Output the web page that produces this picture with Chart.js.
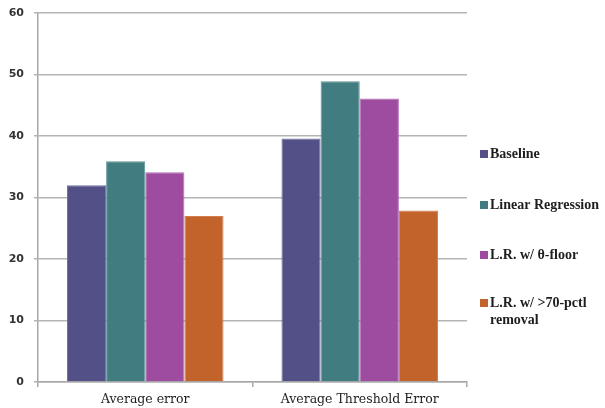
<!DOCTYPE html>
<html>
<head>
<meta charset="utf-8">
<script src="https://cdn.jsdelivr.net/npm/chart.js@4/dist/chart.umd.min.js"></script>
<style>
  html, body { margin: 0; padding: 0; background: #fff; }
  #wrap { width: 605px; height: 408px; position: relative; }
</style>
</head>
<body>
<div id="wrap"><canvas id="c" width="605" height="408"></canvas></div>
<script>
// Categories and series values
const categories = ['Average error', 'Average Threshold Error'];
const seriesNames = ['Baseline', 'Linear Regression', 'L.R. w/ \u03b8-floor', ['L.R. w/ >70-pctl', 'removal']];
const baseline = [32, 39.6];
const linearRegression = [35.9, 48.9];
const lrThetaFloor = [34.1, 46.1];
const lrPctlRemoval = [27, 27.9];
const yTicks = [0, 10, 20, 30, 40, 50, 60];

const fills = ['#525086', '#417C80', '#9D4C9F', '#C2632B'];
const edges = ['#6E6CA0', '#5F9497', '#B36DB5', '#D27D4C'];
const seriesValues = [baseline, linearRegression, lrThetaFloor, lrPctlRemoval];

// Legend drawn at the right side with a wrapped last entry
const sideLegend = {
  id: 'sideLegend',
  afterDraw(chart) {
    const ctx = chart.ctx;
    const rows = [154, 205, 255, 303];
    ctx.save();
    ctx.font = 'bold 14px "Liberation Serif"';
    ctx.textBaseline = 'middle';
    ctx.textAlign = 'left';
    chart.data.datasets.forEach((ds, i) => {
      const y = rows[i];
      ctx.fillStyle = ds.backgroundColor;
      ctx.fillRect(480, y - 4, 8, 8);
      ctx.fillStyle = '#1e1e1e';
      const lines = Array.isArray(ds.label) ? ds.label : [ds.label];
      lines.forEach((t, k) => ctx.fillText(t, 490, y + k * 17));
    });
    ctx.restore();
  }
};

new Chart(document.getElementById('c'), {
  type: 'bar',
  data: {
    labels: categories,
    datasets: seriesValues.map((vals, i) => ({
      label: seriesNames[i],
      data: vals,
      backgroundColor: fills[i],
      borderColor: edges[i],
      borderWidth: 1,
      categoryPercentage: 0.73,
      barPercentage: 1.0
    }))
  },
  options: {
    responsive: false,
    animation: false,
    devicePixelRatio: 1,
    layout: { padding: { left: 0, right: 138, top: 13, bottom: 0 } },
    plugins: { legend: { display: false }, tooltip: { enabled: false } },
    scales: {
      x: {
        grid: { drawOnChartArea: false, drawTicks: true, tickLength: 5, color: '#A8A8A8', lineWidth: 1.5 },
        border: { display: true, color: '#A8A8A8', width: 1.5 },
        ticks: { color: '#1e1e1e', font: { family: '"DejaVu Serif"', size: 12.5 }, padding: 5 },
        afterFit(scale) { scale.height = 26; }
      },
      y: {
        min: 0, max: 60,
        afterBuildTicks(scale) { scale.ticks = yTicks.map(v => ({ value: v })); },
        grid: { color: '#B4B4B4', lineWidth: 1.5, tickLength: 4 },
        border: { display: true, color: '#A8A8A8', width: 1.5 },
        ticks: { color: '#333', font: { family: '"DejaVu Sans"', size: 11, weight: 'bold' }, padding: 10 },
        afterFit(scale) { scale.width = 38; scale.paddingTop = 0; scale.paddingBottom = 0; }
      }
    }
  },
  plugins: [sideLegend]
});
</script>
</body>
</html>
